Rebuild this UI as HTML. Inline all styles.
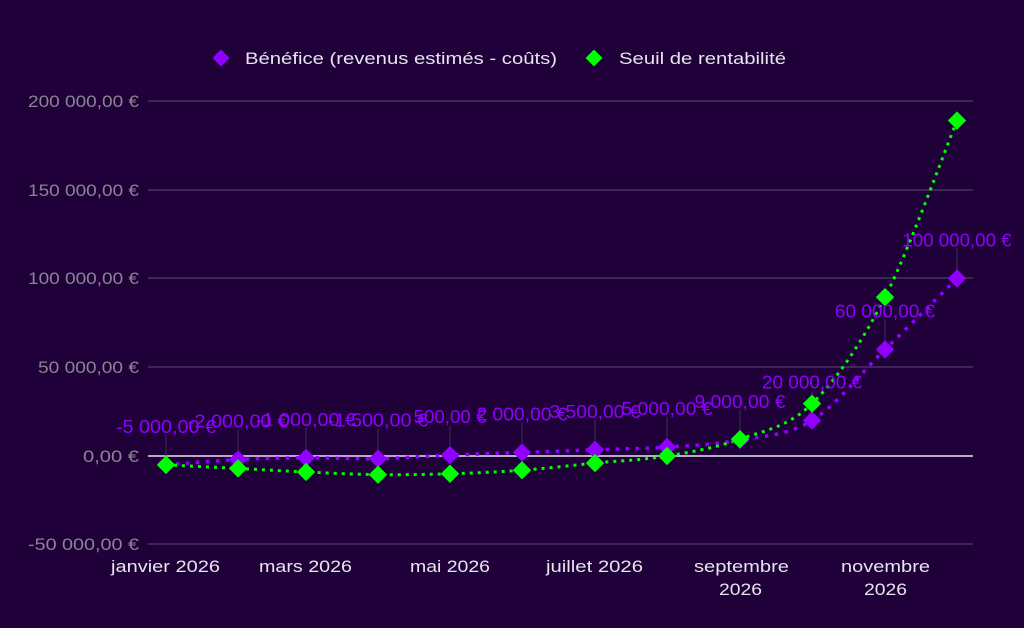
<!DOCTYPE html>
<html><head><meta charset="utf-8"><style>
html,body{margin:0;padding:0;background:#1f0038;}
svg{display:block;font-family:"Liberation Sans",sans-serif;}
</style></head><body>
<svg id="s" width="1024" height="628" viewBox="0 0 1024 628">
<rect width="1024" height="628" fill="#1f0038"/>
<g stroke="#4d3d68" stroke-width="1.3">
<line x1="148" y1="101" x2="973" y2="101"/>
<line x1="148" y1="190" x2="973" y2="190"/>
<line x1="148" y1="278" x2="973" y2="278"/>
<line x1="148" y1="367" x2="973" y2="367"/>
<line x1="148" y1="544" x2="973" y2="544"/>
</g>
<line x1="148" y1="456" x2="973" y2="456" stroke="#e8e4ee" stroke-width="1.5"/>
<g fill="#8a8496" font-size="17">
<text x="28" y="107" textLength="111" lengthAdjust="spacingAndGlyphs">200 000,00 €</text>
<text x="28" y="196" textLength="111" lengthAdjust="spacingAndGlyphs">150 000,00 €</text>
<text x="28" y="284" textLength="111" lengthAdjust="spacingAndGlyphs">100 000,00 €</text>
<text x="38" y="373" textLength="101" lengthAdjust="spacingAndGlyphs">50 000,00 €</text>
<text x="83" y="462" textLength="56" lengthAdjust="spacingAndGlyphs">0,00 €</text>
<text x="28" y="550" textLength="111" lengthAdjust="spacingAndGlyphs">-50 000,00 €</text>
</g>
<g fill="#e8e4ee" font-size="17">
<text x="111" y="572" textLength="109" lengthAdjust="spacingAndGlyphs">janvier 2026</text>
<text x="259" y="572" textLength="93" lengthAdjust="spacingAndGlyphs">mars 2026</text>
<text x="410" y="572" textLength="80" lengthAdjust="spacingAndGlyphs">mai 2026</text>
<text x="546" y="572" textLength="97" lengthAdjust="spacingAndGlyphs">juillet 2026</text>
<text x="694" y="572" textLength="95" lengthAdjust="spacingAndGlyphs">septembre</text>
<text x="719" y="595" textLength="43" lengthAdjust="spacingAndGlyphs">2026</text>
<text x="841" y="572" textLength="89" lengthAdjust="spacingAndGlyphs">novembre</text>
<text x="864" y="595" textLength="43" lengthAdjust="spacingAndGlyphs">2026</text>
</g>
<g font-size="17" fill="#e8e4ee">
<rect x="215" y="52" width="12" height="12" fill="#8f00ff" transform="rotate(45 221 58)"/>
<text x="245" y="64" textLength="312" lengthAdjust="spacingAndGlyphs">Bénéfice (revenus estimés - coûts)</text>
<rect x="588" y="52" width="12" height="12" fill="#00ff00" transform="rotate(45 594 58)"/>
<text x="619" y="64" textLength="167" lengthAdjust="spacingAndGlyphs">Seuil de rentabilité</text>
</g>
<g id="g"></g>
</svg>
<script>
var xs=[166,238,306,378,450,522,595,667,740,812,885,957];
var y=v=>456-v*88.75/50000;
var b=[-5000,-2000,-1000,-1500,500,2000,3500,5000,9000,20000,60000,100000];
var r=[-5000,-7000,-9000,-10500,-10000,-8000,-4000,0,9500,29500,89500,189000];
var lbl=["-5 000,00 €","-2 000,00 €","-1 000,00 €","-1 500,00 €","500,00 €","2 000,00 €","3 500,00 €","5 000,00 €","9 000,00 €","20 000,00 €","60 000,00 €","100 000,00 €"];
function path(vs){var p=xs.map((x,i)=>[x,y(vs[i])]);var d="M"+p[0];for(var i=0;i<p.length-1;i++){var p0=p[i-1]||p[i],p1=p[i],p2=p[i+1],p3=p[i+2]||p2;var c1=[p1[0]+(p2[0]-p0[0])/6,p1[1]+(p2[1]-p0[1])/6],c2=[p2[0]-(p3[0]-p1[0])/6,p2[1]-(p3[1]-p1[1])/6];d+="C"+c1+" "+c2+" "+p2;}return d;}
var h="";
b.forEach((v,i)=>{var py=y(v);h+='<line x1="'+xs[i]+'" y1="'+(py-30)+'" x2="'+xs[i]+'" y2="'+py+'" stroke="#3a3048" stroke-width="1"/>';});
h+='<path d="'+path(b)+'" fill="none" stroke="#8f00ff" stroke-width="3.5" stroke-dasharray="3.5 6.5"/>';
h+='<path d="'+path(r)+'" fill="none" stroke="#00ff00" stroke-width="3" stroke-dasharray="3 5"/>';
b.forEach((v,i)=>{var py=y(v);h+='<rect x="'+(xs[i]-6.5)+'" y="'+(py-6.5)+'" width="13" height="13" fill="#8f00ff" transform="rotate(45 '+xs[i]+' '+py+')"/>';});
r.forEach((v,i)=>{var py=y(v);h+='<rect x="'+(xs[i]-6.5)+'" y="'+(py-6.5)+'" width="13" height="13" fill="#00ff00" transform="rotate(45 '+xs[i]+' '+py+')"/>';});
b.forEach((v,i)=>{var py=y(v);var w=lbl[i].length*9.1;h+='<text x="'+(xs[i]-w/2)+'" y="'+(py-32)+'" font-size="18" fill="#8f00ff" textLength="'+w+'" lengthAdjust="spacingAndGlyphs">'+lbl[i]+'</text>';});
document.getElementById("g").innerHTML=h;
</script>
</body></html>
